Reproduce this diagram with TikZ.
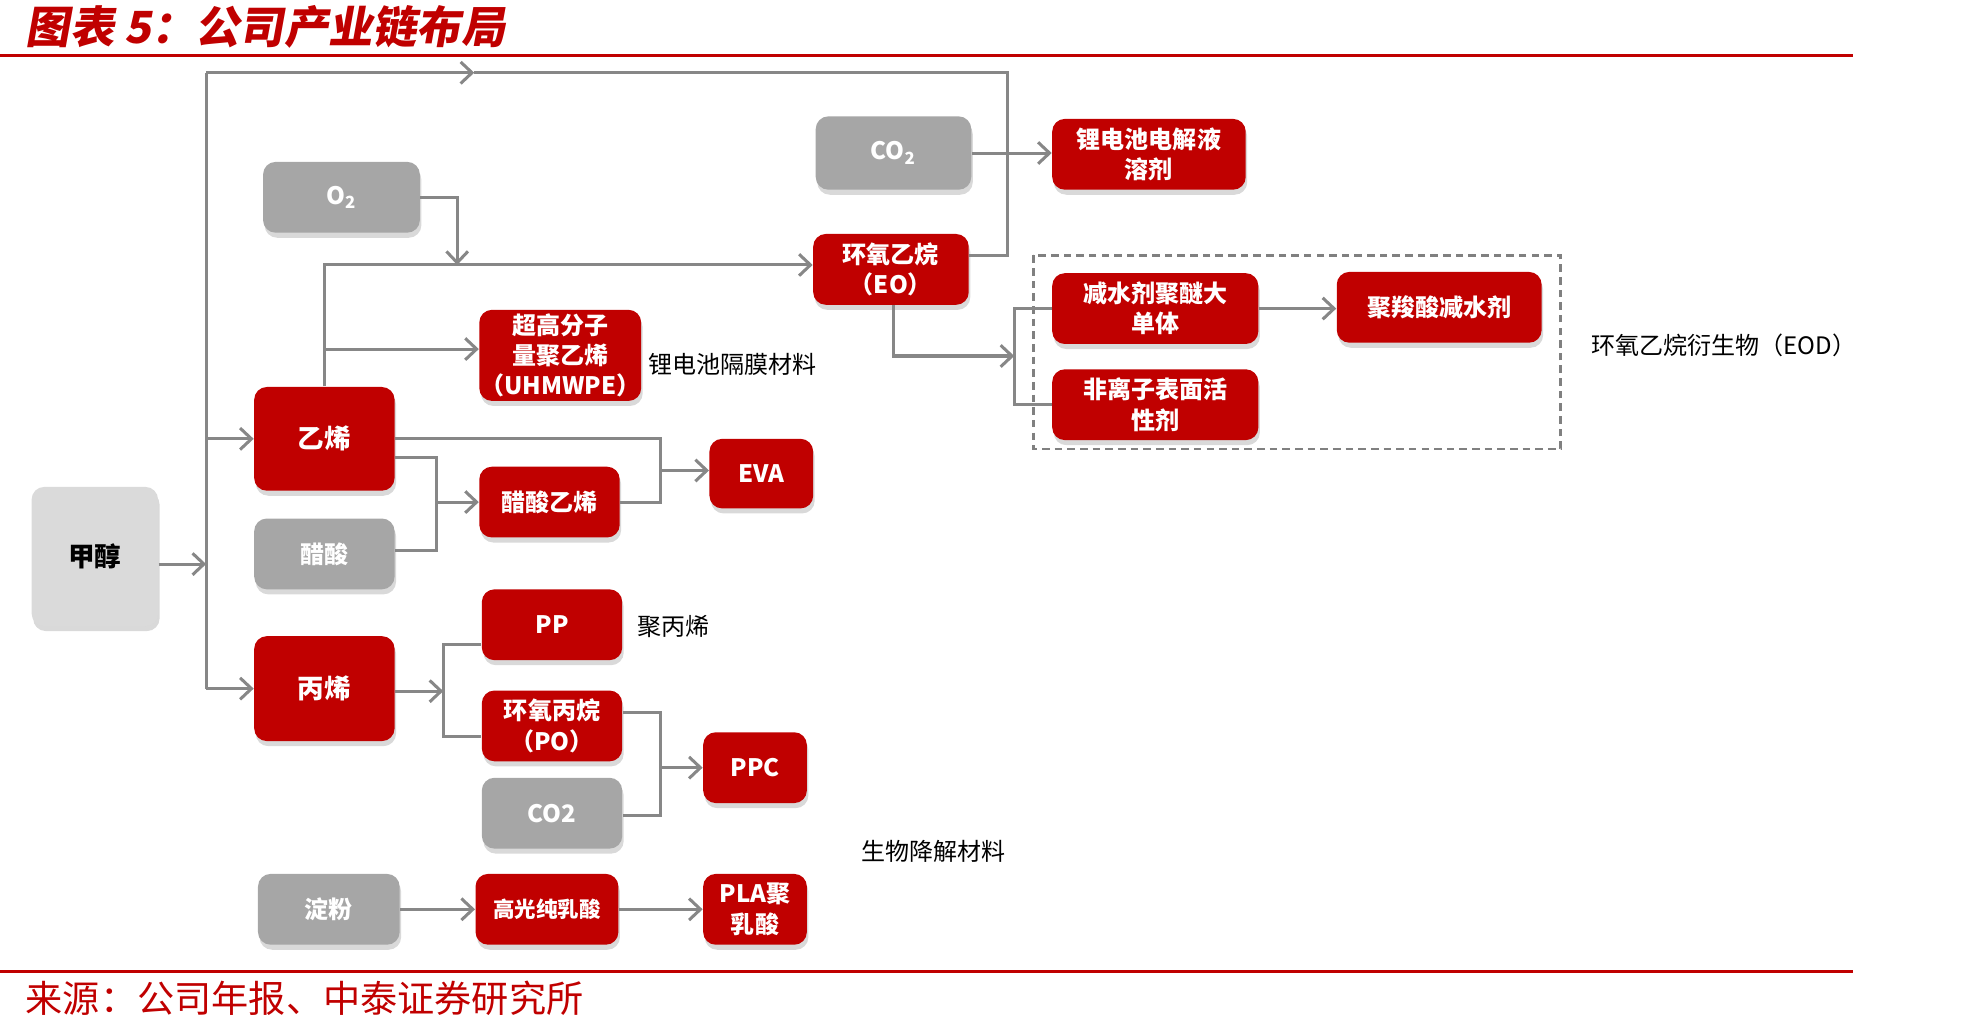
\documentclass[tikz,border=0pt]{standalone}
\usepackage{fontspec}
\setmainfont{Noto Sans CJK SC}
\newfontfamily\titlefont{Noto Sans CJK SC}[FakeSlant=0.18]
\usetikzlibrary{arrows.meta,shadows}
\definecolor{zred}{RGB}{192,0,0}
\definecolor{zgray}{RGB}{166,166,166}
\definecolor{zlight}{RGB}{218,218,218}
\definecolor{zline}{RGB}{135,135,135}
\definecolor{zdash}{RGB}{128,128,128}
\begin{document}
\begin{tikzpicture}[x=0.5pt,y=-0.5pt,
  box/.style={rounded corners=5pt, inner sep=0pt, align=center,
    font=\bfseries\fontsize{9.5}{12}\selectfont, text=white,
    drop shadow={shadow xshift=0.6pt, shadow yshift=-2pt, opacity=0.3}},
  redbox/.style={box, fill=zred},
  graybox/.style={box, fill=zgray},
  sz/.style 2 args={minimum width=#1*0.5pt, minimum height=#2*0.5pt},
  ln/.style={draw=zline, line width=1.2pt},
  ar/.style={ln, -{Straight Barb[length=4.5pt,width=8.5pt]}},
  lbl/.style={anchor=west, inner sep=0pt, font=\fontsize{9.5}{12}\selectfont, text=black},
  big/.style={font=\bfseries\fontsize{10.5}{12}\selectfont},
]
\useasboundingbox (0,0) rectangle (1568,814);

% title and rules
\node[anchor=west, inner sep=0pt, text=zred, font=\titlefont\bfseries\fontsize{17.5}{17.5}\selectfont] (title) at (20,21) {图表 5：公司产业链布局};
\draw[zred, line width=1pt] (0,44) -- (1465,44);
\draw[zred, line width=1pt] (0,768) -- (1465,768);
\node[anchor=west, inner sep=0pt, text=zred, font=\fontsize{14.7}{14.7}\selectfont] (src) at (20,789) {来源：公司年报、中泰证券研究所};

% boxes
\node[box, fill=zlight, text=black, big, sz={100}{110}] (jc) at (75,440) {甲醇};
\node[graybox, sz={124}{56}] (o2) at (270,156) {O\textsubscript{2}};
\node[graybox, sz={123}{58}] (co2) at (706.5,121) {CO\textsubscript{2}};
\node[redbox, sz={153}{56}] (li) at (908.5,122) {锂电池电解液\\溶剂};
\node[redbox, sz={123}{56}] (eo) at (704.5,213) {环氧乙烷\\（EO）};
\node[redbox, sz={128}{72}] (uh) at (443,281) {超高分子\\量聚乙烯\\（UHMWPE）};
\node[redbox, big, sz={111}{82}] (yx) at (256.5,347) {乙烯};
\node[graybox, sz={111}{56}] (cs) at (256.5,438) {醋酸};
\node[redbox, sz={111}{56}] (cy) at (434.5,397) {醋酸乙烯};
\node[redbox, sz={82}{55}] (eva) at (602,374.5) {EVA};
\node[redbox, sz={111}{56}] (pp) at (436.5,494) {PP};
\node[redbox, big, sz={111}{83}] (bx) at (256.5,544.5) {丙烯};
\node[redbox, sz={111}{56}] (po) at (436.5,574) {环氧丙烷\\（PO）};
\node[graybox, sz={111}{56}] (cb) at (436.5,643) {CO2};
\node[redbox, sz={82}{56}] (ppc) at (597,607) {PPC};
\node[graybox, sz={112}{56}] (df) at (260,719) {淀粉};
\node[redbox, sz={113}{56}, font=\bfseries\fontsize{8.5}{12}\selectfont] (gg) at (432.5,719) {高光纯乳酸};
\node[redbox, sz={82}{56}] (pla) at (597,719) {PLA聚\\乳酸};
\node[redbox, sz={163}{56}] (js) at (913.5,244) {减水剂聚醚大\\单体};
\node[redbox, sz={163}{56}] (fl) at (913.5,320) {非离子表面活\\性剂};
\node[redbox, sz={162}{56}] (jsa) at (1138,243) {聚羧酸减水剂};

% dashed group
\draw[zdash, line width=1pt, dash pattern=on 3pt off 2pt] (817,202) rectangle (1234,355);

% labels
\node[lbl] (l1) at (512,288) {锂电池隔膜材料};
\node[lbl] (l2) at (504,495) {聚丙烯};
\node[lbl] (l3) at (681,673) {生物降解材料};
\node[lbl] (l4) at (1258,273) {环氧乙烷衍生物（EOD）};

% connectors
\coordinate (bt) at (163,57.5);
\coordinate (bb) at (163,544.5);
\coordinate (bin) at (163,446);
\coordinate (tarr) at (375,57.5);
\coordinate (tr) at (797,57.5);
\draw[ln] (bt) -- (bb);
\draw[ar] ([yshift=-3pt]jc.east) -- (bin);
\draw[ar] (yx.west -| bt) -- (yx.west);
\draw[ar] (bx.west -| bt) -- (bx.west);
\draw[ar] (bt) -- (tarr);
\draw[ln] (tarr) -- (tr) |- ([yshift=5.5pt]eo.east);

\draw[ar] (yx.north) |- ([yshift=1.75pt]eo.west);
\coordinate (uhin) at ([yshift=2.5pt]uh.west);
\draw[ar] (yx.north |- uhin) -- (uhin);
\coordinate (o2j) at (361.5,209.5);
\draw[ar] (o2.east) -| (o2j);

\draw[ar] (co2.east) -- (co2.east -| li.west);

\coordinate (eoj) at (802,281.5);
\draw[ar] ([xshift=1pt]eo.south) |- (eoj);
\draw[ln] (js.west) -| (eoj) |- (fl.west);
\draw[ar] (js.east) -- (js.east -| jsa.west);

\coordinate (evj) at (522,372);
\draw[ln] (yx.east) -| (evj) |- (cy.east);
\draw[ar] (evj) -- (evj -| eva.west);
\coordinate (cyj) at (345,397);
\draw[ln] ([yshift=-7.5pt]yx.east) -| (cyj) |- ([yshift=1.5pt]cs.east);
\draw[ar] (cyj) -- (cy.west);

\coordinate (bxj) at (350.5,546.5);
\draw[ar] ([yshift=-1pt]bx.east) -- (bxj);
\draw[ln] ([yshift=-7.75pt]pp.west) -| (bxj) |- ([yshift=-4pt]po.west);

\coordinate (ppj) at (522,607);
\draw[ln] ([yshift=5.25pt]po.east) -| (ppj) |- ([yshift=-1pt]cb.east);
\draw[ar] (ppj) -- (ppj -| ppc.west);

\draw[ar] (df.east) -- (df.east -| gg.west);
\draw[ar] (gg.east) -- (gg.east -| pla.west);
\end{tikzpicture}
\end{document}
